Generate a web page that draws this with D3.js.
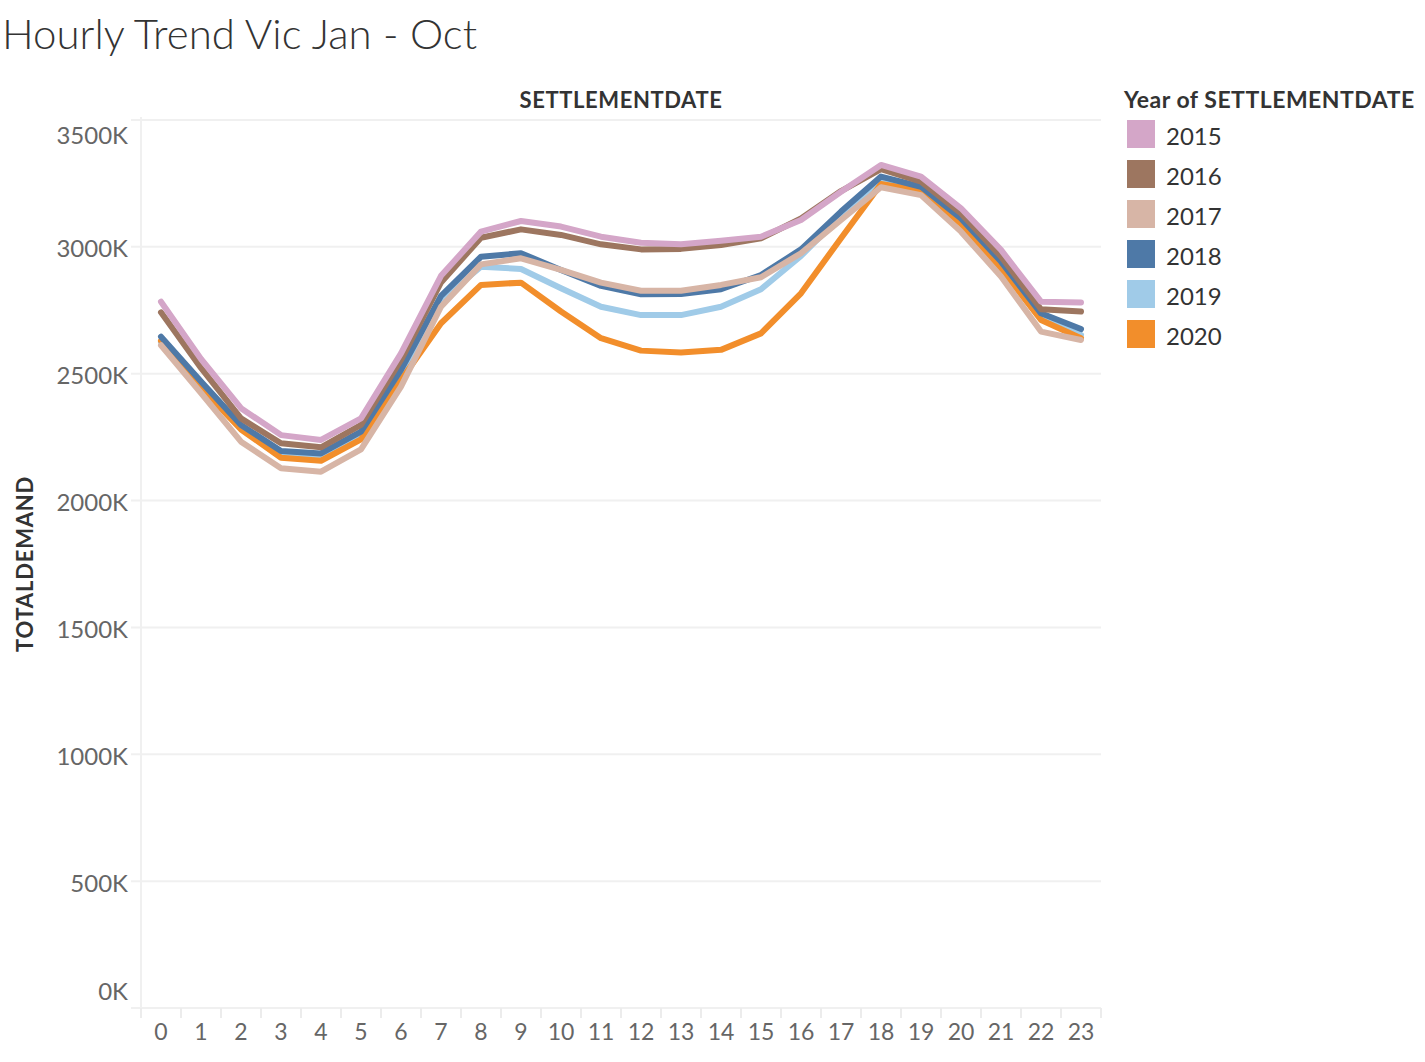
<!DOCTYPE html>
<html>
<head>
<meta charset="utf-8">
<script src="https://cdn.jsdelivr.net/npm/d3@7"></script>
<style>
  html, body { margin: 0; padding: 0; background: #fff; }
  svg { display: block; font-family: Lato, "Open Sans", sans-serif; }
</style>
</head>
<body>
<svg id="chart" width="1425" height="1062"></svg>
<script>
// ---- data ----
const hours = [0,1,2,3,4,5,6,7,8,9,10,11,12,13,14,15,16,17,18,19,20,21,22,23];
const years = ["2015","2016","2017","2018","2019","2020"];
const colors = ["#D4A6C8","#9D7660","#D7B5A6","#4E79A7","#A0CBE8","#F28E2B"];
// values in thousands (K)
const y2015 = [2784,2558,2364,2258,2239,2324,2580,2886,3060,3102,3080,3040,3016,3010,3024,3040,3106,3217,3323,3277,3152,2988,2784,2781];
const y2016 = [2742,2523,2324,2226,2210,2298,2554,2860,3036,3069,3047,3010,2990,2992,3007,3034,3112,3220,3306,3257,3132,2961,2754,2745];
const y2017 = [2612,2424,2232,2127,2114,2202,2449,2764,2931,2955,2909,2859,2827,2827,2850,2880,2975,3106,3235,3204,3060,2883,2666,2633];
const y2018 = [2646,2469,2298,2195,2186,2272,2515,2807,2961,2975,2909,2846,2813,2814,2833,2889,2990,3139,3277,3237,3112,2942,2738,2676];
const y2019 = [2625,2449,2285,2184,2173,2258,2495,2791,2922,2913,2837,2764,2731,2731,2764,2833,2964,3122,3260,3227,3099,2929,2731,2653];
const y2020 = [2630,2445,2280,2169,2157,2241,2475,2699,2850,2859,2745,2640,2591,2584,2594,2659,2817,3034,3248,3221,3090,2915,2712,2640];
const seriesValues = [y2015,y2016,y2017,y2018,y2019,y2020];
const yTicks = [0,500,1000,1500,2000,2500,3000,3500];
const titleText = "Hourly Trend Vic Jan - Oct";
const headerText = "SETTLEMENTDATE";
const yTitleText = "TOTALDEMAND";
const legendTitleText = "Year of SETTLEMENTDATE";
const drawOrder = ["2019","2020","2018","2017","2016","2015"];

// ---- layout ----
const svg = d3.select("#chart");
const plot = { left: 141, right: 1101, top: 120, bottom: 1008 };

const x = d3.scaleBand().domain(hours).range([plot.left, plot.right]);
const y = d3.scaleLinear().domain([0, 3500]).range([plot.bottom, plot.top]);
const color = d3.scaleOrdinal().domain(years).range(colors);

// title
svg.append("text")
  .attr("x", 2).attr("y", 49)
  .attr("font-size", 42).attr("font-weight", 300)
  .attr("fill", "#333")
  .text(titleText);

// header
svg.append("text")
  .attr("x", (plot.left + plot.right) / 2).attr("y", 108)
  .attr("text-anchor", "middle")
  .attr("font-size", 22).attr("font-weight", 700)
  .attr("letter-spacing", 0.6)
  .attr("fill", "#333")
  .text(headerText);

// gridlines
svg.append("g")
  .selectAll("line")
  .data(yTicks.filter(d => d > 0))
  .join("line")
  .attr("x1", 131).attr("x2", plot.right)
  .attr("y1", d => y(d)).attr("y2", d => y(d))
  .attr("stroke", "#f0f0f0").attr("stroke-width", 2);

// left plot border
svg.append("line")
  .attr("x1", plot.left).attr("x2", plot.left)
  .attr("y1", 117).attr("y2", plot.bottom)
  .attr("stroke", "#f0f0f0").attr("stroke-width", 2);

// y axis labels
svg.append("g")
  .selectAll("text")
  .data(yTicks)
  .join("text")
  .attr("x", 128)
  .attr("y", d => Math.max(136, Math.min(992, y(d) + 2)))
  .attr("dy", "0.35em")
  .attr("text-anchor", "end")
  .attr("font-size", 24)
  .attr("fill", "#666")
  .text(d => d + "K");

// y title
svg.append("text")
  .attr("transform", `translate(33, ${(plot.top + plot.bottom) / 2}) rotate(-90)`)
  .attr("text-anchor", "middle")
  .attr("font-size", 22).attr("font-weight", 700)
  .attr("letter-spacing", 0.8)
  .attr("fill", "#333")
  .text(yTitleText);

// x axis
const xAxis = d3.axisBottom(x).tickSize(0).tickPadding(0);
const gx = svg.append("g").attr("transform", `translate(0, ${plot.bottom})`).call(xAxis);
gx.select(".domain").remove();
gx.selectAll("text")
  .attr("y", 24).attr("dy", "0.35em")
  .attr("font-family", "Lato, 'Open Sans', sans-serif")
  .attr("font-size", 23).attr("fill", "#666");

svg.append("line")
  .attr("x1", 131).attr("x2", plot.right)
  .attr("y1", plot.bottom).attr("y2", plot.bottom)
  .attr("stroke", "#f0f0f0").attr("stroke-width", 2);

svg.append("g")
  .selectAll("line")
  .data(hours.concat([24]))
  .join("line")
  .attr("x1", d => d < 24 ? x(d) : plot.right)
  .attr("x2", d => d < 24 ? x(d) : plot.right)
  .attr("y1", plot.bottom).attr("y2", plot.bottom + 10)
  .attr("stroke", "#ececec").attr("stroke-width", 2);

// lines
const line = d3.line()
  .x((d, i) => x(hours[i]) + x.bandwidth() / 2)
  .y(d => y(d));

svg.append("g")
  .selectAll("path")
  .data(drawOrder.map(yr => ({ year: yr, values: seriesValues[years.indexOf(yr)] })))
  .join("path")
  .attr("d", d => line(d.values))
  .attr("fill", "none")
  .attr("stroke", d => color(d.year))
  .attr("stroke-width", 6)
  .attr("stroke-linejoin", "round")
  .attr("stroke-linecap", "round");

// legend
svg.append("text")
  .attr("x", 1124).attr("y", 108)
  .attr("font-size", 23).attr("font-weight", 700)
  .attr("letter-spacing", 0.5)
  .attr("fill", "#333")
  .text(legendTitleText);

const leg = svg.append("g")
  .selectAll("g")
  .data(years)
  .join("g")
  .attr("transform", (d, i) => `translate(1127, ${120 + i * 40})`);
leg.append("rect")
  .attr("width", 28).attr("height", 28)
  .attr("fill", d => color(d));
leg.append("text")
  .attr("x", 39).attr("y", 16).attr("dy", "0.36em")
  .attr("font-size", 24)
  .attr("fill", "#333")
  .text(d => d);
</script>
</body>
</html>
